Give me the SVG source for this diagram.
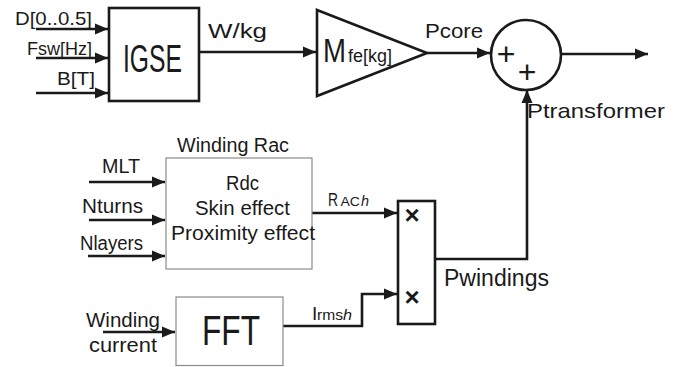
<svg xmlns="http://www.w3.org/2000/svg" width="689" height="367" viewBox="0 0 689 367">
<style>
text{font-family:"Liberation Sans",Arial,sans-serif;fill:#1a1a1a}
.thick{fill:#fff;stroke:#1a1a1a;stroke-width:2.6}
.thin{fill:#fff;stroke:#8a8a8a;stroke-width:1.2}
.wire{fill:none;stroke:#1a1a1a;stroke-width:2.6}
</style>
<defs>
<marker id="ah" markerUnits="userSpaceOnUse" markerWidth="14" markerHeight="12" refX="13" refY="6" orient="auto">
<path d="M0,0.5 L13,6 L0,11.5 z" fill="#1a1a1a"/>
</marker>
</defs>
<g id="connectors">
<path class="wire" d="M36,29 H108" marker-end="url(#ah)"/>
<path class="wire" d="M36,58 H108" marker-end="url(#ah)"/>
<path class="wire" d="M36,93 H108" marker-end="url(#ah)"/>
<path class="wire" d="M199,52 H316" marker-end="url(#ah)"/>
<path class="wire" d="M427,53 H490" marker-end="url(#ah)"/>
<path class="wire" d="M561,54 H648" marker-end="url(#ah)"/>
<path class="wire" d="M435,259 H527 V90" marker-end="url(#ah)"/>
<path class="wire" d="M89,182 H165" marker-end="url(#ah)"/>
<path class="wire" d="M89,220 H165" marker-end="url(#ah)"/>
<path class="wire" d="M88,256 H165" marker-end="url(#ah)"/>
<path class="wire" d="M312,213 H397" marker-end="url(#ah)"/>
<path class="wire" d="M283,326 H362 V294 H397" marker-end="url(#ah)"/>
<path class="wire" d="M103,332 H175" marker-end="url(#ah)"/>
</g>
<g id="inputs-core">
<text x="15" y="25" font-size="19" textLength="77" lengthAdjust="spacingAndGlyphs">D[0..0.5]</text>
<text x="27" y="55" font-size="19" textLength="65" lengthAdjust="spacingAndGlyphs">Fsw[Hz]</text>
<text x="57" y="85" font-size="19" textLength="38" lengthAdjust="spacingAndGlyphs">B[T]</text>
</g>
<g id="igse">
<rect class="thick" x="109" y="8" width="90" height="93"/>
<text x="123" y="72" font-size="38" textLength="59" lengthAdjust="spacingAndGlyphs">IGSE</text>
</g>
<text x="208" y="38" font-size="21" textLength="59" lengthAdjust="spacingAndGlyphs">W/kg</text>
<g id="mass">
<polygon class="thick" points="317,10 427,53 317,96"/>
<text x="323" y="62" font-size="33" textLength="23" lengthAdjust="spacingAndGlyphs">M</text>
<text x="348" y="62" font-size="18" textLength="44" lengthAdjust="spacingAndGlyphs">fe[kg]</text>
</g>
<text x="425" y="38" font-size="21" textLength="58" lengthAdjust="spacingAndGlyphs">Pcore</text>
<g id="sum">
<circle class="thick" cx="526" cy="55" r="35"/>
<text x="506" y="65" font-size="32" text-anchor="middle">+</text>
<text x="527" y="83" font-size="32" text-anchor="middle">+</text>
</g>
<text x="527" y="118" font-size="21" textLength="138" lengthAdjust="spacingAndGlyphs">Ptransformer</text>
<g id="winding-rac">
<text x="177" y="152" font-size="19.5" textLength="112" lengthAdjust="spacingAndGlyphs">Winding Rac</text>
<rect class="thin" x="166" y="158" width="146" height="111"/>
<text x="226" y="190" font-size="20" textLength="33" lengthAdjust="spacingAndGlyphs">Rdc</text>
<text x="195" y="215" font-size="20" textLength="95" lengthAdjust="spacingAndGlyphs">Skin effect</text>
<text x="171" y="240" font-size="20" textLength="144" lengthAdjust="spacingAndGlyphs">Proximity effect</text>
</g>
<g id="rac-inputs">
<text x="102" y="173" font-size="20" textLength="38" lengthAdjust="spacingAndGlyphs">MLT</text>
<text x="82" y="213" font-size="20" textLength="61" lengthAdjust="spacingAndGlyphs">Nturns</text>
<text x="80" y="250" font-size="20" textLength="63" lengthAdjust="spacingAndGlyphs">Nlayers</text>
</g>
<text y="206" font-size="12"><tspan x="328" font-size="18" textLength="10" lengthAdjust="spacingAndGlyphs">R</tspan><tspan x="340.5" textLength="19.5" lengthAdjust="spacingAndGlyphs">AC</tspan><tspan x="361" font-size="15" font-style="italic" textLength="8" lengthAdjust="spacingAndGlyphs">h</tspan></text>
<g id="multiplier">
<rect class="thick" x="398" y="201" width="37" height="123"/>
<text x="412" y="224" font-size="26" font-weight="bold" text-anchor="middle">×</text>
<text x="412" y="306" font-size="26" font-weight="bold" text-anchor="middle">×</text>
</g>
<text x="444" y="286" font-size="23" textLength="105" lengthAdjust="spacingAndGlyphs">Pwindings</text>
<g id="fft">
<rect class="thin" x="176" y="297" width="107" height="68.5"/>
<text x="202" y="345" font-size="42" textLength="58" lengthAdjust="spacingAndGlyphs">FFT</text>
</g>
<text y="320"><tspan x="312" font-size="19">I</tspan><tspan x="317" font-size="15" textLength="26" lengthAdjust="spacingAndGlyphs">rms</tspan><tspan x="343" font-size="15" font-style="italic" textLength="9" lengthAdjust="spacingAndGlyphs">h</tspan></text>
<g id="winding-current">
<text x="86" y="327" font-size="20" textLength="74" lengthAdjust="spacingAndGlyphs">Winding</text>
<text x="89" y="352" font-size="20" textLength="68" lengthAdjust="spacingAndGlyphs">current</text>
</g>
</svg>
